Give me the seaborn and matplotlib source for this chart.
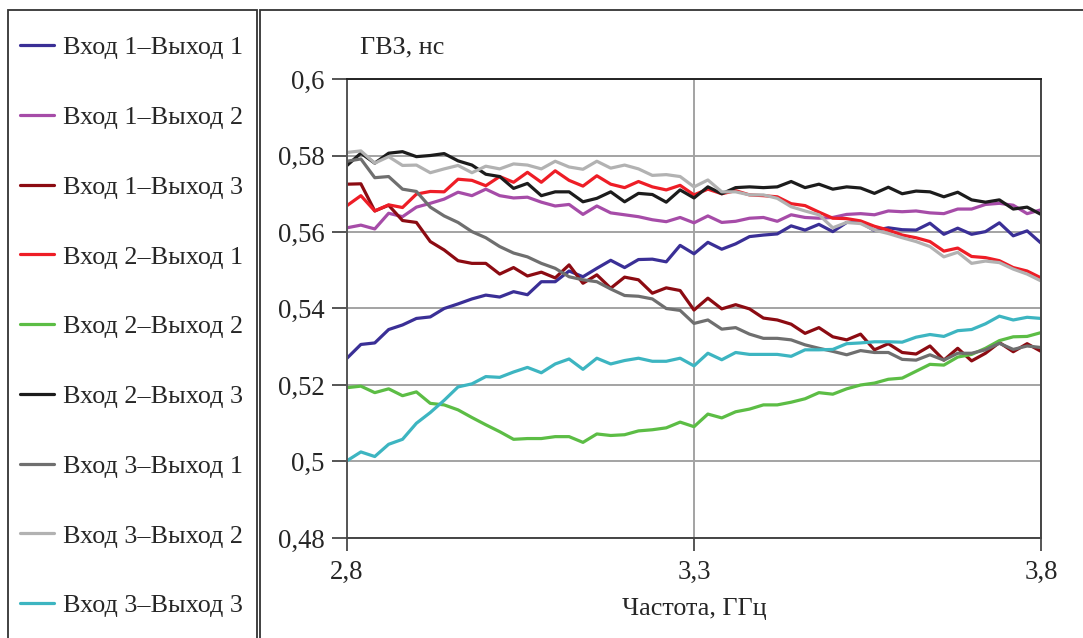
import numpy as np
import pandas as pd
import matplotlib
matplotlib.use("Agg")
import matplotlib.pyplot as plt
import seaborn as sns
from matplotlib.patches import Rectangle
from matplotlib.ticker import FuncFormatter, FixedLocator

# ---------------- data ----------------
freq = np.linspace(2.8, 3.8, 51)  # ГГц, sampling grid

labels = ["Вход 1–Выход 1", "Вход 1–Выход 2", "Вход 1–Выход 3",
          "Вход 2–Выход 1", "Вход 2–Выход 2", "Вход 2–Выход 3",
          "Вход 3–Выход 1", "Вход 3–Выход 2", "Вход 3–Выход 3"]

s11 = [0.527, 0.5306, 0.531, 0.5345, 0.5357, 0.5374, 0.5378, 0.540, 0.5412, 0.5425,
       0.5435, 0.543, 0.5444, 0.5436, 0.547, 0.547, 0.5498, 0.5483, 0.5505, 0.5526,
       0.5507, 0.5528, 0.5529, 0.5522, 0.5565, 0.5543, 0.5573, 0.5555, 0.5569, 0.5588,
       0.5592, 0.5595, 0.5616, 0.5605, 0.562, 0.5601, 0.5625, 0.5625, 0.5604, 0.5611,
       0.5606, 0.5605, 0.5623, 0.5594, 0.561, 0.5594, 0.5601, 0.5624, 0.559, 0.5603, 0.5571]
s12 = [0.5611, 0.5618, 0.5608, 0.5649, 0.564, 0.5665, 0.5675, 0.5686, 0.5704, 0.5695,
       0.5712, 0.5695, 0.5689, 0.5691, 0.5678, 0.5668, 0.5672, 0.5646, 0.5668, 0.565,
       0.5645, 0.564, 0.5632, 0.5627, 0.5638, 0.5624, 0.5642, 0.5625, 0.5628, 0.5636,
       0.5638, 0.5628, 0.5645, 0.5638, 0.5636, 0.5638, 0.5646, 0.5648, 0.5645, 0.5655,
       0.5653, 0.5655, 0.565, 0.5648, 0.566, 0.566, 0.5672, 0.5675, 0.567, 0.5648, 0.5658]
s13 = [0.5725, 0.5726, 0.5655, 0.567, 0.563, 0.5625, 0.5575, 0.5553, 0.5525, 0.5518,
       0.5518, 0.549, 0.5507, 0.5485, 0.5495, 0.548, 0.5514, 0.5466, 0.5488, 0.5453,
       0.5482, 0.5475, 0.544, 0.5454, 0.5447, 0.5396, 0.5427, 0.5399, 0.541, 0.5399,
       0.5375, 0.537, 0.5359, 0.5335, 0.535, 0.5326, 0.5318, 0.5333, 0.5292, 0.5308,
       0.5285, 0.5281, 0.5302, 0.5265, 0.5296, 0.5263, 0.5283, 0.5311, 0.5287, 0.5308, 0.5288]
s21 = [0.5669, 0.5695, 0.5655, 0.5671, 0.5664, 0.5699, 0.5706, 0.5705, 0.5738, 0.5735,
       0.5721, 0.5745, 0.573, 0.5756, 0.573, 0.576, 0.5735, 0.572, 0.5747, 0.5725,
       0.5716, 0.5732, 0.5718, 0.571, 0.5722, 0.5697, 0.5712, 0.570, 0.5708, 0.5697,
       0.5695, 0.5692, 0.5674, 0.5669, 0.5652, 0.5636, 0.5635, 0.5629, 0.5615, 0.5605,
       0.5592, 0.5585, 0.5575, 0.555, 0.5558, 0.5536, 0.5533, 0.5525, 0.5507, 0.5498, 0.548]
s22 = [0.5193, 0.5197, 0.518, 0.519, 0.5172, 0.5182, 0.5152, 0.5148, 0.5135, 0.5115,
       0.5096, 0.5078, 0.5058, 0.506, 0.506, 0.5065, 0.5065, 0.505, 0.5072, 0.5068,
       0.507, 0.508, 0.5083, 0.5088, 0.5103, 0.5091, 0.5124, 0.5114, 0.513, 0.5137,
       0.5148, 0.5148, 0.5155, 0.5164, 0.518, 0.5176, 0.519, 0.520, 0.5205, 0.5215,
       0.5218, 0.5236, 0.5254, 0.5252, 0.5273, 0.528, 0.5296, 0.5316, 0.5326, 0.5327, 0.5337]
s23 = [0.5774, 0.5806, 0.578, 0.5806, 0.581, 0.5797, 0.580, 0.5805, 0.5786, 0.5775,
       0.5751, 0.5745, 0.5714, 0.5727, 0.5695, 0.5705, 0.5705, 0.5679, 0.5688, 0.5705,
       0.5679, 0.5701, 0.5698, 0.5678, 0.571, 0.5689, 0.5718, 0.570, 0.5716, 0.5718,
       0.5716, 0.5718, 0.5732, 0.5716, 0.5725, 0.5712, 0.5718, 0.5715, 0.5701, 0.5717,
       0.570, 0.5707, 0.5705, 0.5692, 0.5704, 0.5684, 0.5678, 0.5684, 0.566, 0.5665, 0.5646]
s31 = [0.5785, 0.5791, 0.5742, 0.5745, 0.5712, 0.5706, 0.5665, 0.5642, 0.5625, 0.5601,
       0.5585, 0.5562, 0.5545, 0.5535, 0.5518, 0.5505, 0.5483, 0.5475, 0.547, 0.5451,
       0.5434, 0.5432, 0.5425, 0.540, 0.5395, 0.5361, 0.537, 0.5346, 0.535, 0.5333,
       0.5322, 0.5322, 0.5318, 0.5305, 0.5296, 0.5288, 0.5279, 0.529, 0.5285, 0.5285,
       0.5267, 0.5265, 0.5279, 0.5265, 0.5283, 0.5283, 0.5292, 0.5309, 0.5293, 0.5302, 0.5298]
s32 = [0.5808, 0.5812, 0.578, 0.5797, 0.5774, 0.5775, 0.5755, 0.5765, 0.5774, 0.5755,
       0.5772, 0.5765, 0.5778, 0.5775, 0.5765, 0.5785, 0.577, 0.5764, 0.5785, 0.5767,
       0.5775, 0.5765, 0.5748, 0.575, 0.5745, 0.5718, 0.5736, 0.5705, 0.5705, 0.5697,
       0.5697, 0.5688, 0.5666, 0.5655, 0.5645, 0.5611, 0.5625, 0.5622, 0.5605, 0.5596,
       0.5585, 0.5575, 0.5562, 0.5535, 0.5547, 0.5518, 0.5524, 0.552, 0.5503, 0.549, 0.5472]
s33 = [0.5002, 0.5025, 0.5013, 0.5045, 0.5058, 0.510, 0.5128, 0.516, 0.5195, 0.5203,
       0.5222, 0.522, 0.5234, 0.5246, 0.5232, 0.5255, 0.5268, 0.5241, 0.527, 0.5255,
       0.5264, 0.527, 0.5262, 0.5262, 0.527, 0.525, 0.5283, 0.5266, 0.5285, 0.528,
       0.528, 0.528, 0.5275, 0.5292, 0.5292, 0.5293, 0.5308, 0.531, 0.5313, 0.5313,
       0.5312, 0.5325, 0.5332, 0.5327, 0.5342, 0.5345, 0.536, 0.538, 0.537, 0.5377, 0.5374]

series = [s11, s12, s13, s21, s22, s23, s31, s32, s33]
colors = ["#3a2f96", "#a64ca8", "#8c0b12", "#ee1d26", "#5cbd45",
          "#1c1c1c", "#6f6f6f", "#b2b2b2", "#3db5c1"]

y_ticks = [0.48, 0.50, 0.52, 0.54, 0.56, 0.58, 0.60]
x_ticks = [2.8, 3.3, 3.8]

df = pd.concat([pd.DataFrame({"freq": freq, "gvz": s, "pair": lab})
                for s, lab in zip(series, labels)], ignore_index=True)

# ---------------- style ----------------
sns.set_style("white")
plt.rcParams["font.family"] = ["Liberation Serif", "DejaVu Serif"]
FS = 18.8

W, H = 1083, 638
fig = plt.figure(figsize=(W / 100, H / 100), dpi=100)

def fx(px):
    return px / W

def fy(py):
    return 1 - py / H

# panel frames
fig.add_artist(Rectangle((fx(8), fy(660)), fx(257 - 8), fy(10) - fy(660),
                         transform=fig.transFigure, fill=False,
                         edgecolor="#333333", lw=1.3))
fig.add_artist(Rectangle((fx(260), fy(660)), fx(1100 - 260), fy(10) - fy(660),
                         transform=fig.transFigure, fill=False,
                         edgecolor="#333333", lw=1.3))

ax = fig.add_axes([fx(347), fy(538), fx(1041 - 347), fy(79) - fy(538)])

sns.lineplot(data=df, x="freq", y="gvz", hue="pair", hue_order=labels,
             palette=dict(zip(labels, colors)), estimator=None, sort=False,
             lw=2.3, ax=ax, legend=False)

ax.set_xlim(2.8, 3.8)
ax.set_ylim(0.48, 0.60)
ax.xaxis.set_major_locator(FixedLocator(x_ticks))
ax.yaxis.set_major_locator(FixedLocator(y_ticks))
fmt = FuncFormatter(lambda v, p: ("%g" % round(v, 2)).replace(".", ","))
ax.xaxis.set_major_formatter(fmt)
ax.yaxis.set_major_formatter(fmt)

ax.grid(True, color="#a3a3a3", lw=1.4)
ax.set_axisbelow(True)
for side in ["left", "bottom", "top", "right"]:
    ax.spines[side].set_visible(True)
    ax.spines[side].set_linewidth(1.4)
ax.spines["left"].set_color("#555555")
ax.spines["bottom"].set_color("#444444")
ax.spines["top"].set_color("#222222")
ax.spines["right"].set_color("#444444")

ax.tick_params(axis="y", direction="out", length=11, width=1.4, color="#555555",
               pad=5, labelsize=FS + 0.5, left=True)
ax.tick_params(axis="x", direction="out", length=9.5, width=1.4, color="#555555",
               pad=6, labelsize=FS + 0.5, bottom=True)

ax.set_xlabel("Частота, ГГц", fontsize=FS, labelpad=10)
ax.set_ylabel("")
fig.text(fx(360), fy(47), "ГВЗ, нс", fontsize=FS, ha="left", va="center")

handles = ax.get_lines()[:len(labels)]
fig.legend(handles, labels, loc="upper left",
           bbox_to_anchor=(fx(20), fy(36)), bbox_transform=fig.transFigure,
           frameon=False, fontsize=FS, handlelength=1.3, handletextpad=0.35,
           labelspacing=1.78, borderpad=0, borderaxespad=0)

fig.savefig("out.png", dpi=100)
